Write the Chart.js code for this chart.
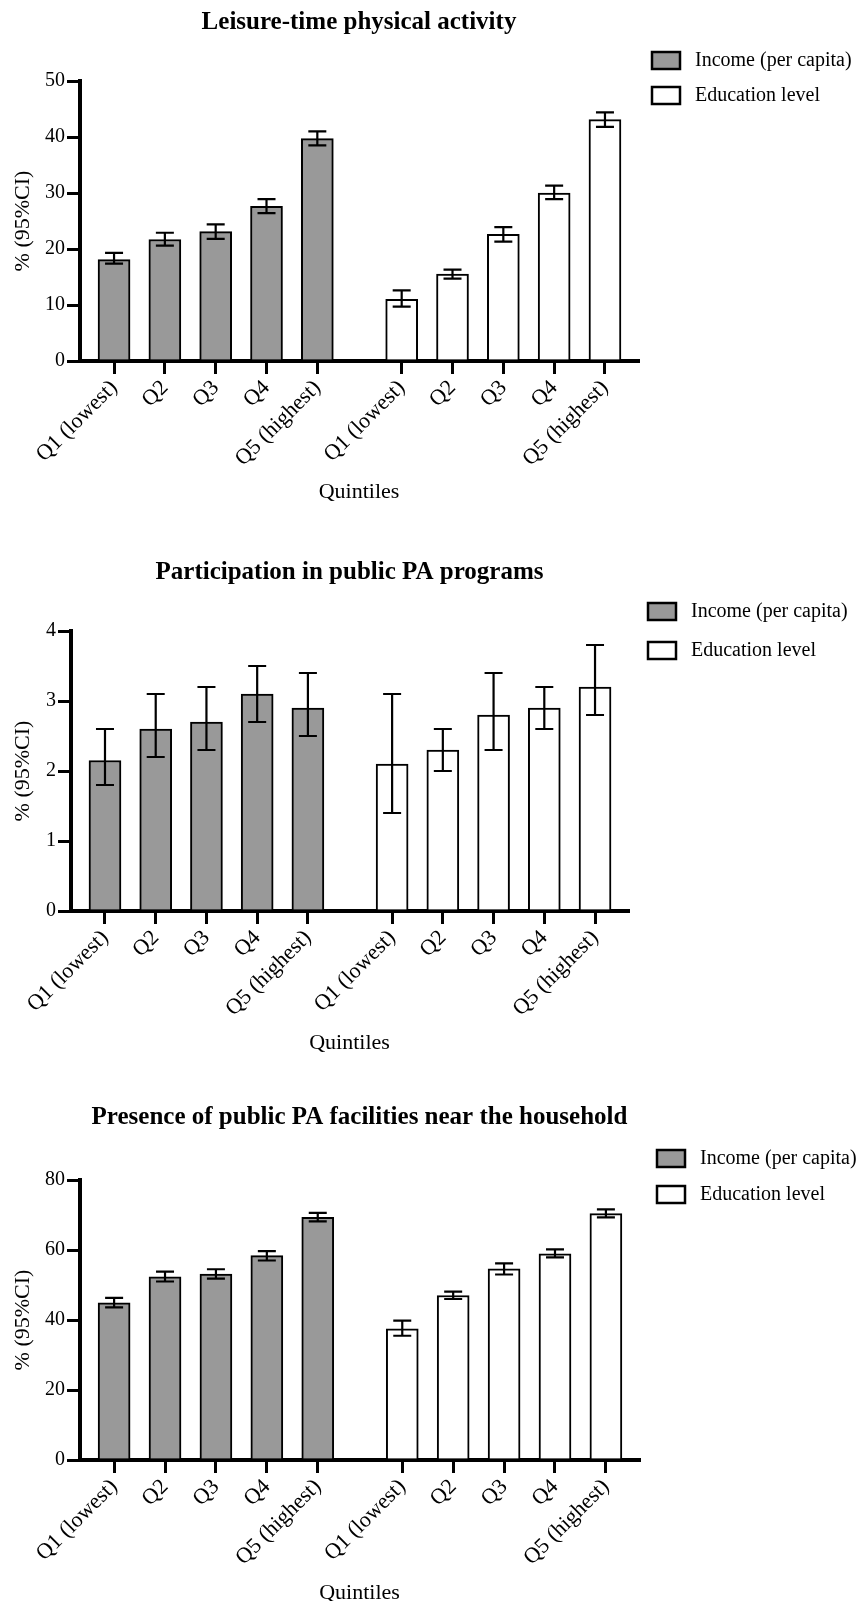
<!DOCTYPE html>
<html>
<head>
<meta charset="utf-8">
<script src="https://cdn.jsdelivr.net/npm/chart.js@4.4.0/dist/chart.umd.min.js"></script>
<style>
body{margin:0;background:#fff;overflow:hidden;}
canvas{display:block;}
</style>
</head>
<body>
<canvas id="c1" width="860" height="540"></canvas>
<canvas id="c2" width="860" height="555"></canvas>
<canvas id="c3" width="860" height="525"></canvas>
<script>
var quintiles = ['Q1 (lowest)', 'Q2', 'Q3', 'Q4', 'Q5 (highest)'];
var seriesNames = ['Income (per capita)', 'Education level'];

var ltpaIncome = [18.1, 21.7, 23.1, 27.6, 39.7];
var ltpaIncomeLow = [17.4, 20.6, 21.8, 26.4, 38.5];
var ltpaIncomeHigh = [19.3, 22.9, 24.4, 28.9, 41.0];
var ltpaEdu = [11.0, 15.5, 22.6, 30.0, 43.1];
var ltpaEduLow = [9.7, 14.7, 21.3, 28.9, 41.8];
var ltpaEduHigh = [12.6, 16.3, 23.9, 31.3, 44.4];

var progIncome = [2.15, 2.6, 2.7, 3.1, 2.9];
var progIncomeLow = [1.8, 2.2, 2.3, 2.7, 2.5];
var progIncomeHigh = [2.6, 3.1, 3.2, 3.5, 3.4];
var progEdu = [2.1, 2.3, 2.8, 2.9, 3.2];
var progEduLow = [1.4, 2.0, 2.3, 2.6, 2.8];
var progEduHigh = [3.1, 2.6, 3.4, 3.2, 3.8];

var facIncome = [44.9, 52.3, 53.1, 58.4, 69.3];
var facIncomeLow = [43.6, 51.0, 51.8, 57.0, 68.2];
var facIncomeHigh = [46.3, 53.8, 54.5, 59.7, 70.6];
var facEdu = [37.5, 47.0, 54.6, 58.9, 70.4];
var facEduLow = [35.5, 46.0, 53.0, 57.9, 69.3];
var facEduHigh = [39.8, 48.1, 56.2, 60.2, 71.6];

var serif = "'Liberation Serif', 'Times New Roman', serif";
Chart.defaults.font.family = serif;
Chart.defaults.color = '#000';

// second group of bars starts this far (in bar steps) from the first
var groupShift = 5.66;

var errorBars = {
    id: 'errorBars',
    afterDatasetsDraw: function (chart) {
        var ctx = chart.ctx;
        var y = chart.scales.y;
        ctx.save();
        ctx.strokeStyle = '#000';
        ctx.lineWidth = 2.2;
        chart.data.datasets.forEach(function (ds, d) {
            chart.getDatasetMeta(d).data.forEach(function (bar, i) {
                var top = y.getPixelForValue(ds.high[i]);
                var bot = y.getPixelForValue(ds.low[i]);
                ctx.beginPath();
                ctx.moveTo(bar.x, top); ctx.lineTo(bar.x, bot);
                ctx.moveTo(bar.x - 9, top); ctx.lineTo(bar.x + 9, top);
                ctx.moveTo(bar.x - 9, bot); ctx.lineTo(bar.x + 9, bot);
                ctx.stroke();
            });
        });
        ctx.restore();
    }
};

var boxLegend = {
    id: 'boxLegend',
    afterDraw: function (chart, args, opts) {
        var ctx = chart.ctx;
        ctx.save();
        ctx.font = '20px ' + serif;
        ctx.textBaseline = 'middle';
        chart.data.datasets.forEach(function (ds, i) {
            var top = opts.y + i * opts.gap;
            ctx.fillStyle = ds.backgroundColor;
            ctx.fillRect(opts.x, top, 28, 17);
            ctx.lineWidth = 2.5;
            ctx.strokeStyle = '#000';
            ctx.strokeRect(opts.x, top, 28, 17);
            ctx.fillStyle = '#000';
            ctx.fillText(ds.label, opts.x + 43, top + 9);
        });
        ctx.restore();
    }
};

function points(vals, shift) {
    return vals.map(function (v, i) { return {x: i + shift, y: v}; });
}

function drawPanel(id, p) {
    var ticksAt = quintiles.map(function (q, i) { return i; })
        .concat(quintiles.map(function (q, i) { return i + groupShift; }));
    var axisGrid = {drawOnChartArea: false, drawTicks: true, offset: false, tickLength: 13, lineWidth: 3, color: '#000'};
    var axisBorder = {display: true, color: '#000', width: 4};
    return new Chart(document.getElementById(id), {
        type: 'bar',
        data: {
            datasets: [
                {label: seriesNames[0], data: points(p.income, 0), low: p.incomeLow, high: p.incomeHigh, backgroundColor: '#999999'},
                {label: seriesNames[1], data: points(p.edu, groupShift), low: p.eduLow, high: p.eduHigh, backgroundColor: '#ffffff'}
            ]
        },
        options: {
            responsive: false,
            animation: false,
            datasets: {bar: {barThickness: 32, grouped: false, borderColor: '#000', borderWidth: 2}},
            layout: {padding: {left: 0, top: 0, right: p.right, bottom: 0}},
            plugins: {
                legend: {display: false},
                tooltip: {enabled: false},
                title: {display: true, text: p.title, fullSize: false, color: '#000',
                    font: {size: 25, weight: 'bold'}, padding: {top: p.titleTop, bottom: p.titleBottom}},
                boxLegend: p.legend
            },
            scales: {
                x: {
                    type: 'linear', min: -0.67, max: 4 + groupShift + 0.65, offset: false, z: 1,
                    afterBuildTicks: function (s) { s.ticks = ticksAt.map(function (v) { return {value: v}; }); },
                    afterFit: function (s) { s.height = p.xHeight; },
                    ticks: {autoSkip: false, minRotation: 45, maxRotation: 45, padding: 1, font: {size: 22}, color: '#000',
                        callback: function (v, i) { return quintiles[i % 5]; }},
                    grid: axisGrid,
                    border: axisBorder,
                    title: {display: true, text: 'Quintiles', font: {size: 22}, color: '#000', padding: {top: 0, bottom: p.xTitleBottom}}
                },
                y: {
                    min: 0, max: p.yMax, z: 1,
                    afterFit: function (s) { s.width = p.yWidth; },
                    ticks: {stepSize: p.step, padding: 2, font: {size: 20}, color: '#000'},
                    grid: axisGrid,
                    border: axisBorder,
                    title: {display: true, text: '% (95%CI)', font: {size: 22}, color: '#000', padding: {top: 10, bottom: 0}}
                }
            }
        },
        plugins: [errorBars, boxLegend]
    });
}

drawPanel('c1', {
    title: 'Leisure-time physical activity',
    income: ltpaIncome, incomeLow: ltpaIncomeLow, incomeHigh: ltpaIncomeHigh,
    edu: ltpaEdu, eduLow: ltpaEduLow, eduHigh: ltpaEduHigh,
    yMax: 50, step: 10,
    titleTop: 8, titleBottom: 43, right: 222, yWidth: 80, xHeight: 179, xTitleBottom: 35,
    legend: {x: 652, y: 52, gap: 35}
});

drawPanel('c2', {
    title: 'Participation in public PA programs',
    income: progIncome, incomeLow: progIncomeLow, incomeHigh: progIncomeHigh,
    edu: progEdu, eduLow: progEduLow, eduHigh: progEduHigh,
    yMax: 4, step: 1,
    titleTop: 18, titleBottom: 43, right: 232, yWidth: 71, xHeight: 184, xTitleBottom: 39,
    legend: {x: 648, y: 63, gap: 39}
});

drawPanel('c3', {
    title: 'Presence of public PA facilities near the household',
    income: facIncome, incomeLow: facIncomeLow, incomeHigh: facIncomeHigh,
    edu: facEdu, eduLow: facEduLow, eduHigh: facEduHigh,
    yMax: 80, step: 20,
    titleTop: 8, titleBottom: 47, right: 221, yWidth: 80, xHeight: 160, xTitleBottom: 14,
    legend: {x: 657, y: 55, gap: 36}
});
</script>
</body>
</html>
